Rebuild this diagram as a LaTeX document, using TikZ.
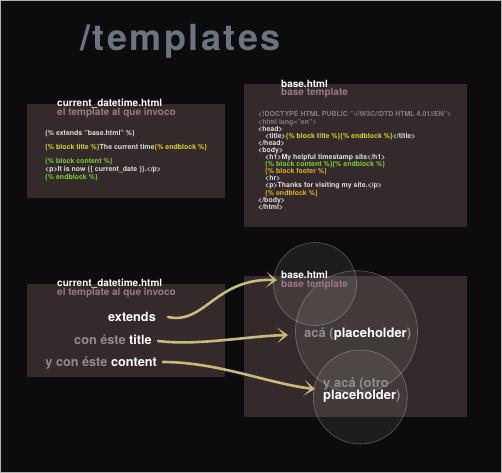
\documentclass[tikz,border=0pt]{standalone}
\usepackage{fontspec}
\setmainfont{TeX Gyre Heros}
\newfontfamily\titlefont[LetterSpace=7]{TeX Gyre Heros}
\usetikzlibrary{arrows.meta}

\definecolor{bgdark}{RGB}{12,11,14}
\definecolor{panelbrown}{RGB}{52,42,43}
\definecolor{titlegray}{RGB}{108,115,128}
\definecolor{mauve}{RGB}{155,121,126}
\definecolor{codewhite}{RGB}{222,220,220}
\definecolor{codegray}{RGB}{128,126,126}
\definecolor{labelgray}{RGB}{145,140,140}
\definecolor{tplyellow}{RGB}{214,214,44}
\definecolor{tplgreen}{RGB}{126,209,49}
\definecolor{tplorange}{RGB}{224,176,42}
\definecolor{brushtan}{RGB}{197,187,124}

\newcommand{\tagyel}[1]{\textcolor{tplyellow}{#1}}
\newcommand{\taggrn}[1]{\textcolor{tplgreen}{#1}}
\newcommand{\tagorg}[1]{\textcolor{tplorange}{#1}}
\newcommand{\lbhi}[1]{\textcolor{white}{#1}}

\begin{document}
\begin{tikzpicture}[x=1bp,y=-1bp,
    panel/.style={fill=panelbrown},
    fname/.style={font=\fontsize{10bp}{12bp}\selectfont\bfseries, text=white, inner sep=0pt, anchor=base west},
    fsub/.style={fname, text=mauve},
    code/.style={font=\fontsize{7bp}{7.1bp}\selectfont\bfseries, text=codewhite, inner sep=0pt, anchor=base west},
    biglabel/.style={font=\fontsize{12.7bp}{15bp}\selectfont\bfseries, text=labelgray, inner sep=0pt, anchor=base east},
    holder/.style={font=\fontsize{13bp}{15bp}\selectfont\bfseries, text=labelgray, inner sep=0pt, anchor=base west},
    bubble/.style={fill=white, fill opacity=0.07, draw=white, draw opacity=0.3, line width=0.6bp},
    brush/.style={draw=brushtan, line width=2.6bp, line cap=round, -{Stealth[length=11bp,width=16bp,inset=7bp]}}]

\useasboundingbox (0,0) rectangle (502,473);
\fill[bgdark, draw=gray!60, line width=1bp] (0.5,0.5) rectangle (501.5,472.5);

\node[anchor=base west, inner sep=0pt, text=titlegray,
      font=\titlefont\bfseries\fontsize{36bp}{40bp}\selectfont] (title) at (80,51) {/templates};

% child template, source
\fill[panel] (27,104) rectangle (225,198);
\node[fname] (tlname) at (57,107) {current\_datetime.html};
\node[fsub]  (tlsub)  at (57,116) {el template al que invoco};
\node[code] (tl1) at (45,135.5) {\{\% extends "base.html" \%\}};
\node[code] (tl2) at (45,149.5) {\tagyel{\{\% block title \%\}}The current time\tagyel{\{\% endblock \%\}}};
\node[code] (tl3) at (45,163.5) {\taggrn{\{\% block content \%\}}};
\node[code] (tl4) at (45,171.5) {<p>It is now \{\{ current\_date \}\}.</p>};
\node[code] (tl5) at (45,179.5) {\taggrn{\{\% endblock \%\}}};

% base template, source
\fill[panel] (244,84) rectangle (467,227);
\node[fname] (trname) at (281,87.5) {base.html};
\node[fsub]  (trsub)  at (281,96) {base template};
\foreach \codeline [count=\n from 0] in {
    {\textcolor{codegray}{<!DOCTYPE HTML PUBLIC "-//W3C//DTD HTML 4.01//EN">}},
    {\textcolor{codegray}{<html lang="en">}},
    {<head>},
    {\hspace*{7bp}<title>\tagyel{\{\% block title \%\}\{\% endblock \%\}}</title>},
    {</head>},
    {<body>},
    {\hspace*{7bp}<h1>My helpful timestamp site</h1>},
    {\hspace*{7bp}\taggrn{\{\% block content \%\}\{\% endblock \%\}}},
    {\hspace*{7bp}\tagorg{\{\% block footer \%\}}},
    {\hspace*{7bp}<hr>},
    {\hspace*{7bp}<p>Thanks for visiting my site.</p>},
    {\hspace*{7bp}\tagorg{\{\% endblock \%\}}},
    {</body>},
    {</html>}}
  \node[code] (tr\n) at (258,{117+7.1*\n}) {\codeline};

% child template, explained
\fill[panel] (27,284) rectangle (225,377);
\node[fname] (blname) at (57,286.5) {current\_datetime.html};
\node[fsub]  (blsub)  at (57,295) {el template al que invoco};
\node[biglabel, text=white] (ext) at (156,321.5) {extends};
\node[biglabel] (ttl) at (152,344.5) {con éste \lbhi{title}};
\node[biglabel] (cnt) at (157,366.5) {y con éste \lbhi{content}};

% base template, explained
\fill[panel] (244,276) rectangle (467,417);
\path[bubble] (315,284) circle[radius=41.5];
\path[bubble] (356.5,331.7) circle[radius=61];
\path[bubble] (360.3,397) circle[radius=47];
\node[fname] (brname) at (281,278) {base.html};
\node[fsub]  (brsub)  at (281,287) {base template};
\node[holder] (aca) at (304,337.5) {acá (\lbhi{placeholder})};
\node[holder] (yaca) at (323,387) {y acá (otro};
\node[holder] (yaca2) at (323,399.5) {\lbhi{placeholder})};

\draw[brush] ([shift={(12,-4.5)}]ext.base east)
  .. controls +(37,8) and +(-62,-2) .. ([shift={(-4,2)}]brname.base west);
\draw[brush] ([shift={(6,-3.5)}]ttl.base east)
  .. controls +(40,5) and +(-40,1) .. ([shift={(-16,-2.5)}]aca.base west);
\draw[brush] ([shift={(6,-4.5)}]cnt.base east)
  .. controls +(55,0) and +(-45,-5) .. ([shift={(-8,2)}]yaca.base west);
\end{tikzpicture}
\end{document}
